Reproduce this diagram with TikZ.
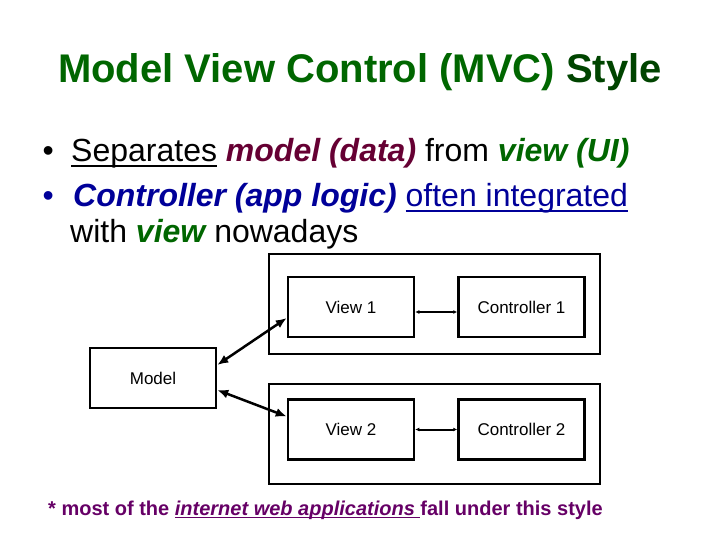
\documentclass[tikz,border=0pt]{standalone}
\usepackage{fontspec}
\setmainfont{Liberation Sans}
\usepackage{tikz}
\usetikzlibrary{
  arrows.meta,
  positioning,
  calc
}
\definecolor{TitleGreen}{HTML}{006600}
\definecolor{DeepGreen}{HTML}{004400}
\definecolor{DataRed}{HTML}{660033}
\definecolor{ViewGreen}{HTML}{006600}
\definecolor{LogicBlue}{HTML}{000099}
\definecolor{NotePurple}{HTML}{660066}
% underline with a rule in the current colour
\newcommand{\uword}[3]{%
  \setbox0\hbox{#3}%
  \rlap{\rule[-#1]{\wd0}{#2}}\box0\relax}
\tikzset{
  block/.style={
    draw,
    line width=2.5pt,
    align=center,
    minimum width=126pt,
    minimum height=60pt,
    inner sep=0pt,
    font=\fontsize{17}{20}\selectfont
  },
  frame/.style={
    draw,
    line width=2.5pt,
    minimum width=331pt,
    minimum height=100pt,
    inner sep=0pt
  },
  link/.style={
    {Latex[length=11pt,width=9pt]}-{Latex[length=11pt,width=9pt]},
    line width=2.5pt
  },
  pair/.style={
    {Latex[length=4pt,width=4pt]}-{Latex[length=4pt,width=4pt]},
    line width=2pt
  },
  textline/.style={
    anchor=base west,
    inner sep=0pt,
    font=\fontsize{32}{38}\selectfont
  }
}

\begin{document}
\begin{tikzpicture}[x=1pt,y=-1pt,node distance=42pt]

  \useasboundingbox (0,0) rectangle (720,540);

  % title
  \node[
    anchor=base,
    inner sep=0pt,
    font=\fontsize{40}{48}\bfseries
  ] (title) at (360,83) {
    \textcolor{TitleGreen}{Model View Control (MVC)} \textcolor{DeepGreen}{Style}
  };

  % bullets
  \node[textline] (line1) at (71,162) {
    \uword{4.6pt}{1.8pt}{Separates} \textcolor{DataRed}{\bfseries\itshape model (data)}
    from \textcolor{ViewGreen}{\bfseries\itshape view (UI)}
  };
  \node[textline] (line2) at (73,207) {
    \textcolor{LogicBlue}{\bfseries\itshape Controller (app logic)}
    {\color{LogicBlue}\uword{4.6pt}{1.8pt}{often integrated}}
  };
  \node[textline] (line3) at (70,243) {
    with \textcolor{ViewGreen}{\bfseries\itshape view} nowadays
  };
  \node[
    anchor=base east,
    inner sep=0pt,
    font=\fontsize{32}{38}\selectfont
  ] (dot1) at ([xshift=-17pt]line1.base west) {\textbullet};
  \node[
    anchor=base east,
    inner sep=0pt,
    font=\fontsize{32}{38}\selectfont,
    text=LogicBlue
  ] (dot2) at ([xshift=-19pt]line2.base west) {\textbullet};

  % frames
  \node[frame] (frame1) at (434.5,304) {};
  \node[frame] (frame2) at (434.5,434) {};

  % boxes
  \node[block] (model) at (153,378) {Model};
  \node[block] (view1) at (351,307) {View 1};
  \node[block, right=of view1] (ctrl1) {Controller 1};
  \node[block, below=60pt of view1] (view2) {View 2};
  \node[block, right=of view2] (ctrl2) {Controller 2};

  \draw[link]
  ([yshift=13pt]model.east) --
  ([yshift=-11pt]view1.west);

  \draw[link]
  ([yshift=-12pt]model.east) --
  ([yshift=13pt]view2.west);

  \draw[pair]
  ([yshift=-5pt]view1.east) --
  ([yshift=-5pt]ctrl1.west);

  \draw[pair]
  (view2.east) --
  (ctrl2.west);

  % note
  \node[
    anchor=base west,
    inner sep=0pt,
    text=NotePurple,
    font=\fontsize{20}{24}\bfseries
  ] (note) at (48,515) {
    * most of the {\itshape\uword{3pt}{1.5pt}{internet web applications\ }}fall under this style
  };

\end{tikzpicture}
\end{document}
